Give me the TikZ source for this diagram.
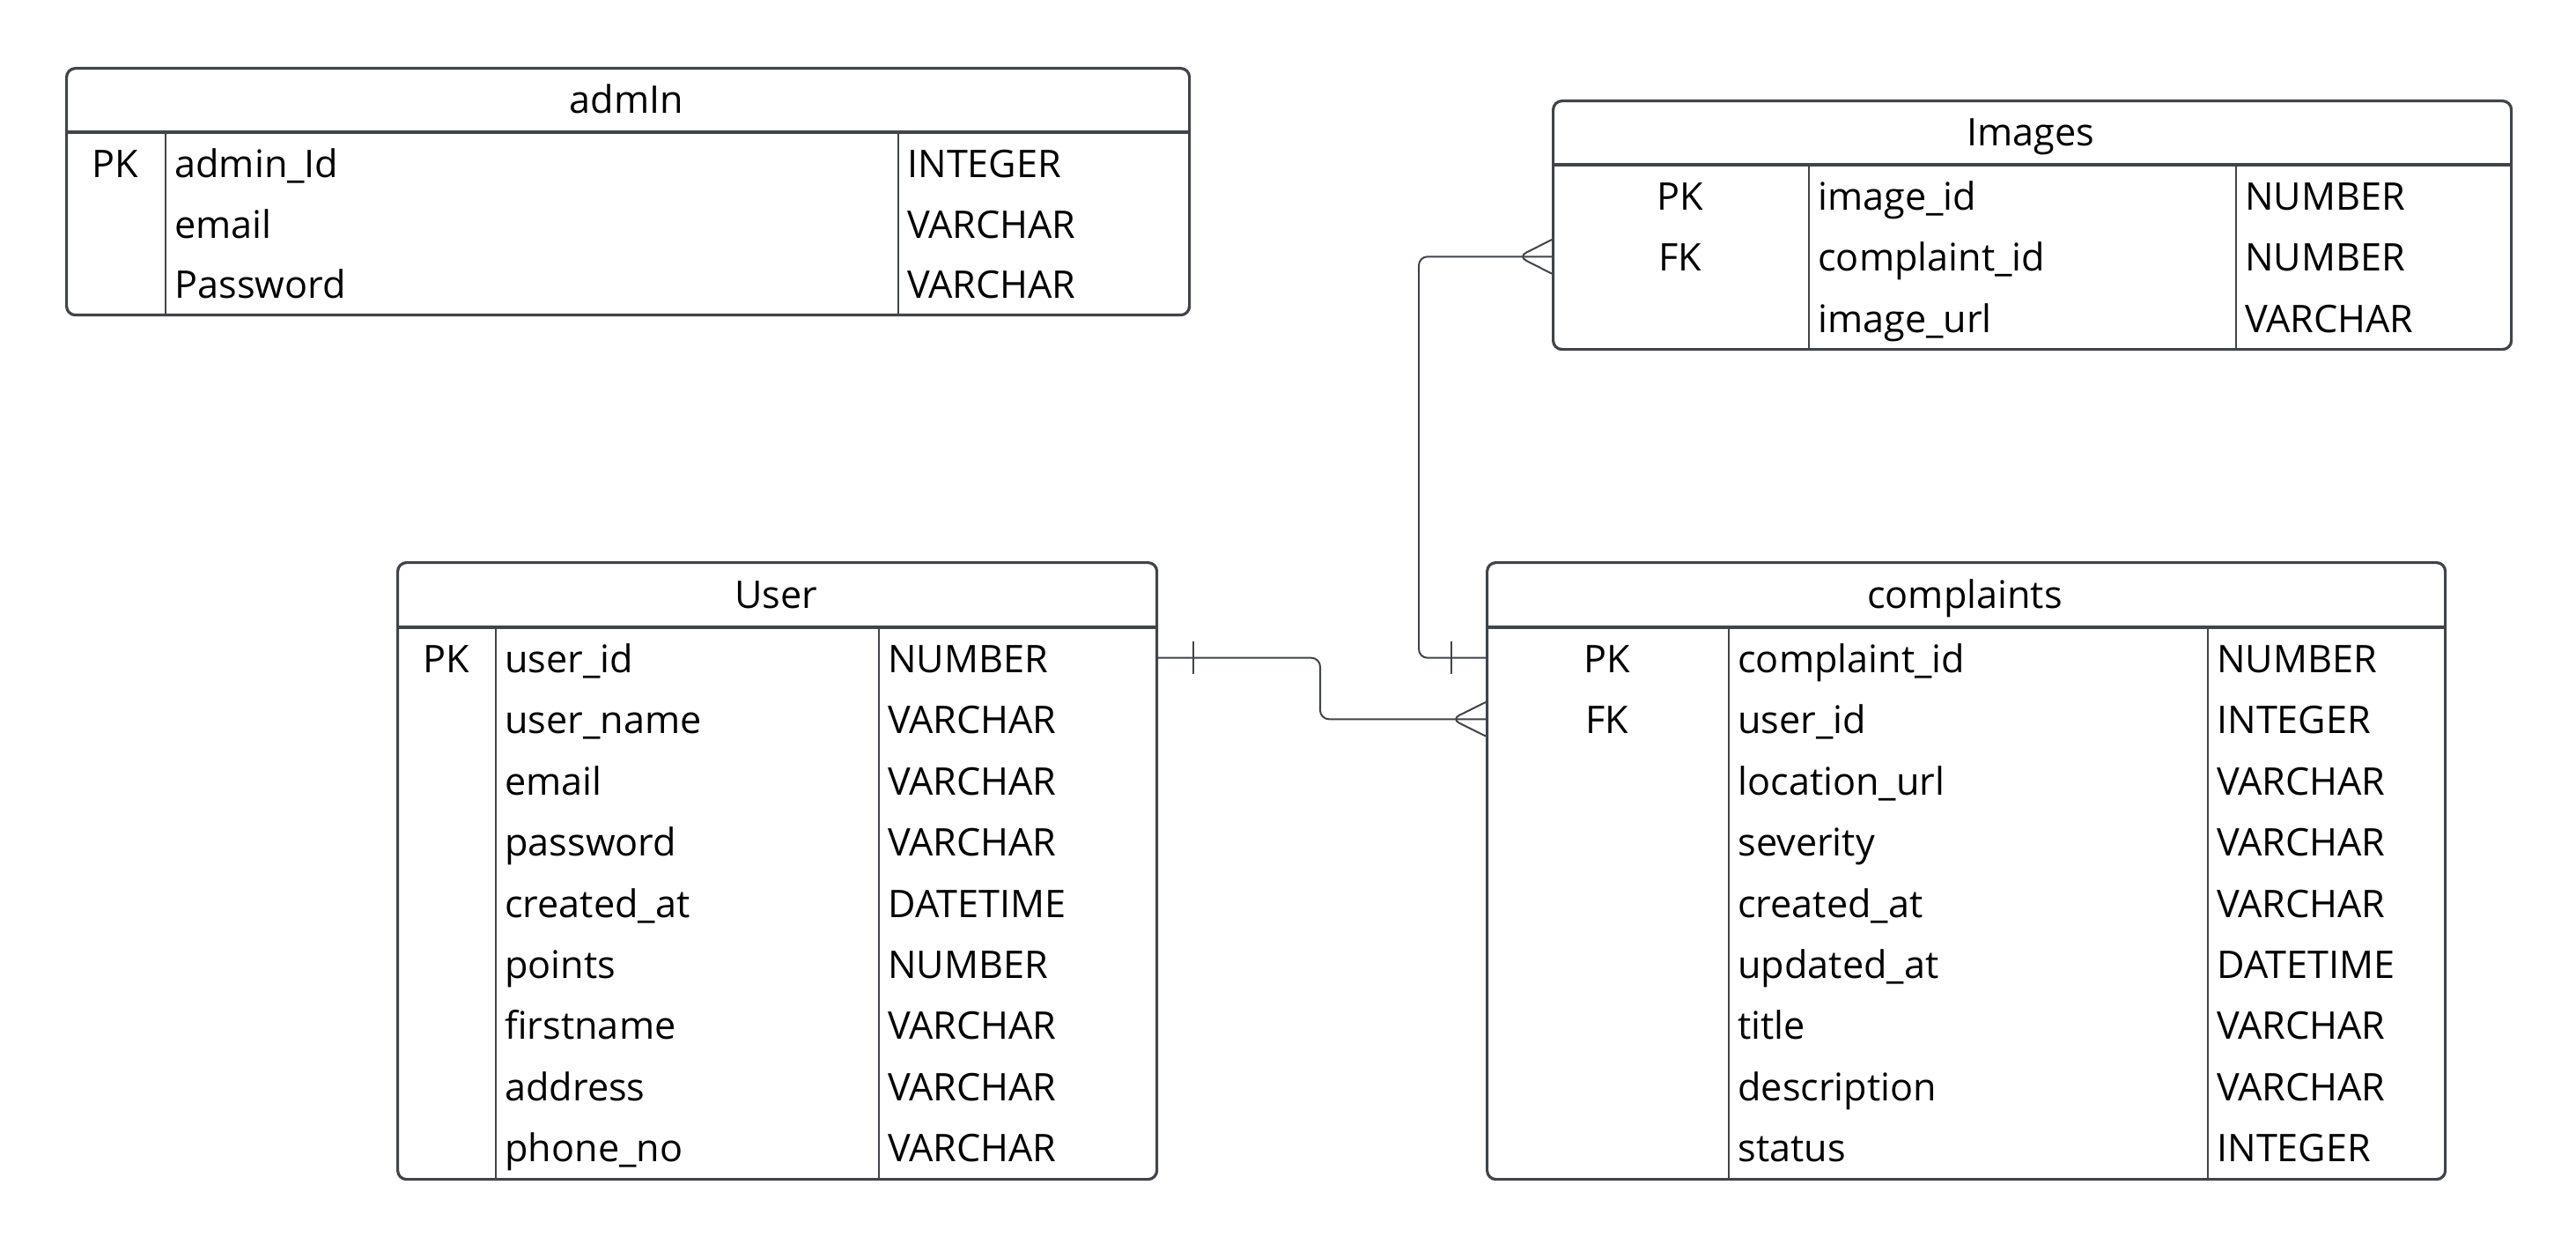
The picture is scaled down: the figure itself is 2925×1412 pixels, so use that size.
\documentclass[tikz,border=0pt]{standalone}
\usepackage{fontspec}
\setmainfont{Open Sans}
\usetikzlibrary{positioning}
\definecolor{erline}{RGB}{64,68,75}
\newcommand{\erfont}{\fontsize{21.6pt}{26pt}\selectfont}
\tikzstyle{tablebox} = [rectangle, rounded corners=5pt, draw=erline, line width=1.6pt, inner sep=0pt, anchor=north west]
\tikzstyle{sep} = [draw=erline, line width=1.6pt]
\tikzstyle{col} = [draw=erline, line width=1.3pt]
\tikzstyle{title} = [anchor=base, inner sep=0pt]
\tikzstyle{key} = [anchor=base, inner sep=0pt]
\tikzstyle{cell} = [anchor=base west, inner sep=0pt]
\tikzstyle{rel} = [draw=erline, line width=1pt, rounded corners=5pt]
\begin{document}
\begin{tikzpicture}[x=0.5pt, y=-0.5pt, font=\erfont]
    \useasboundingbox (0,0) rectangle (2925,1412);

    % admIn
    \node (admin) at (74,76) [tablebox, minimum width=637.5pt, minimum height=140pt] {};
    \draw [sep] (74,150) -- (1349,150);
    \draw [col] (188,150) -- (188,356);
    \draw [col] (1020,150) -- (1020,356);
    \node (admin_title) at (711.5,129) [title] {admIn};
    \foreach \k/\n/\t [count=\i] in {PK/admin\_Id/INTEGER, /email/VARCHAR, /Password/VARCHAR} {
        \node (a-k\i) at (131,{201.5+(\i-1)*68.7}) [key] {\k};
        \node (a-n\i) at (198,{201.5+(\i-1)*68.7}) [cell] {\n};
        \node (a-t\i) at (1030,{201.5+(\i-1)*68.7}) [cell] {\t};
    }

    % Images
    \node (images) at (1762,113) [tablebox, minimum width=544pt, minimum height=141pt] {};
    \draw [sep] (1762,187) -- (2850,187);
    \draw [col] (2054,187) -- (2054,395);
    \draw [col] (2539,187) -- (2539,395);
    \node (images_title) at (2306,166) [title] {Images};
    \foreach \k/\n/\t [count=\i] in {PK/image\_id/NUMBER, FK/complaint\_id/NUMBER, /image\_url/VARCHAR} {
        \node (i-k\i) at (1908,{238.5+(\i-1)*69.3}) [key] {\k};
        \node (i-n\i) at (2064,{238.5+(\i-1)*69.3}) [cell] {\n};
        \node (i-t\i) at (2549,{238.5+(\i-1)*69.3}) [cell] {\t};
    }

    % User
    \node (user) at (450,637) [tablebox, minimum width=431pt, minimum height=350pt] {};
    \draw [sep] (450,712) -- (1312,712);
    \draw [col] (563,712) -- (563,1337);
    \draw [col] (998,712) -- (998,1337);
    \node (user_title) at (881,690) [title] {User};
    \foreach \k/\n/\t [count=\i] in {PK/user\_id/NUMBER, /user\_name/VARCHAR, /email/VARCHAR, /password/VARCHAR, /created\_at/DATETIME, /points/NUMBER, /firstname/VARCHAR, /address/VARCHAR, /phone\_no/VARCHAR} {
        \node (u-k\i) at (506.5,{763.5+(\i-1)*69.4}) [key] {\k};
        \node (u-n\i) at (573,{763.5+(\i-1)*69.4}) [cell] {\n};
        \node (u-t\i) at (1008,{763.5+(\i-1)*69.4}) [cell] {\t};
    }

    % complaints
    \node (complaints) at (1687,637) [tablebox, minimum width=544pt, minimum height=350pt] {};
    \draw [sep] (1687,712) -- (2775,712);
    \draw [col] (1963,712) -- (1963,1337);
    \draw [col] (2507,712) -- (2507,1337);
    \node (complaints_title) at (2231,690) [title] {complaints};
    \foreach \k/\n/\t [count=\i] in {PK/complaint\_id/NUMBER, FK/user\_id/INTEGER, /location\_url/VARCHAR, /severity/VARCHAR, /created\_at/VARCHAR, /updated\_at/DATETIME, /title/VARCHAR, /description/VARCHAR, /status/INTEGER} {
        \node (c-k\i) at (1825,{763.5+(\i-1)*69.4}) [key] {\k};
        \node (c-n\i) at (1973,{763.5+(\i-1)*69.4}) [cell] {\n};
        \node (c-t\i) at (2517,{763.5+(\i-1)*69.4}) [cell] {\t};
    }

    % User 1 -- many complaints
    \draw [rel] (user.east |- 0,746.7) -| (1499,816.3) -- (complaints.west |- 0,816.3);
    \draw [rel] (user.east |- 0,746.7) ++(40,-18.5) -- ++(0,37);
    \draw [rel] (complaints.west |- 0,797) -- ++(-39,19.3) -- ++(39,19.3);

    % complaints 1 -- many Images
    \draw [rel] (complaints.west |- 0,746.7) -| (1611,291.3) -- (images.west |- 0,291.3);
    \draw [rel] (complaints.west |- 0,746.7) ++(-39,-18.5) -- ++(0,37);
    \draw [rel] (images.west |- 0,272) -- ++(-38,19.3) -- ++(38,19.3);
\end{tikzpicture}
\end{document}
